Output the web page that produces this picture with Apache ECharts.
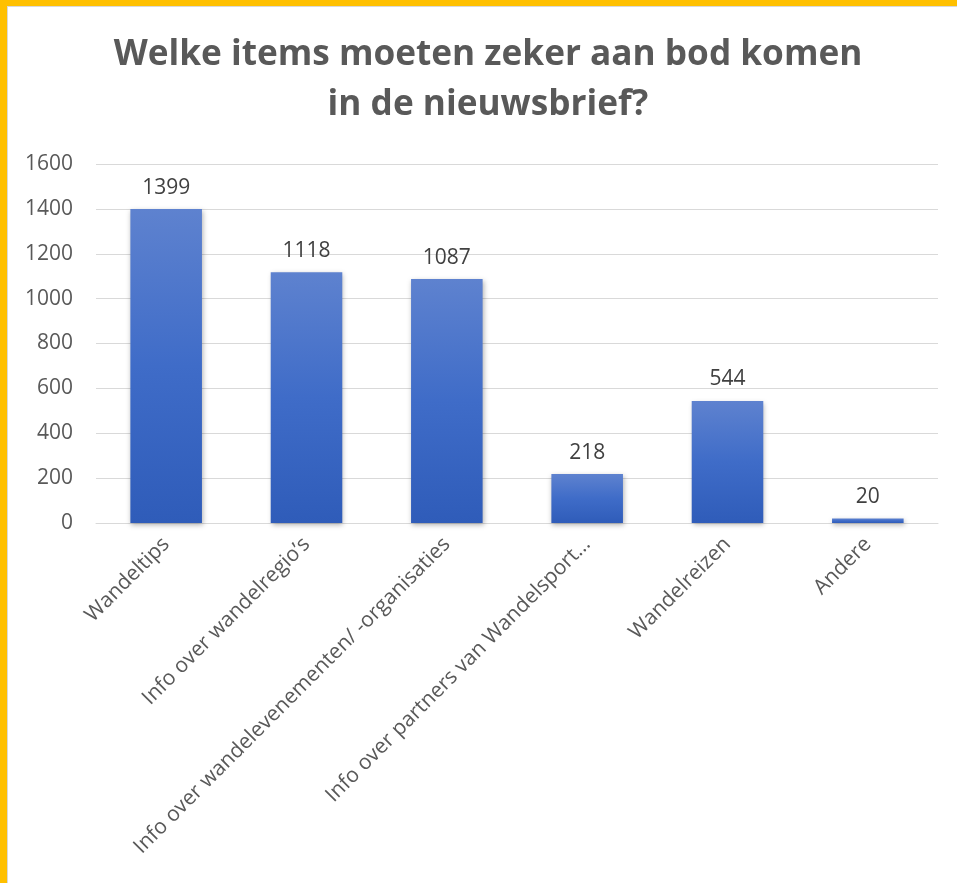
<!DOCTYPE html>
<html>
<head>
<meta charset="utf-8">
<script src="https://cdn.jsdelivr.net/npm/echarts@6/dist/echarts.min.js"></script>
<style>
  html, body { margin: 0; padding: 0; background: #fff; }
  #chart { position: absolute; left: 0; top: 0; width: 957px; height: 883px; }
  .edge { position: absolute; pointer-events: none; }
</style>
</head>
<body>
<div id="chart"></div>
<div class="edge" style="left:0;top:0;width:957px;height:6px;background:#FFC000;"></div>
<div class="edge" style="left:7px;top:6px;width:950px;height:1px;background:#d9d9d9;"></div>
<div class="edge" style="left:0;top:0;width:7px;height:883px;background:#FFC000;"></div>
<div class="edge" style="left:7px;top:7px;width:1px;height:876px;background:#d9d9d9;"></div>
<script>
const titleText = 'Welke items moeten zeker aan bod komen\nin de nieuwsbrief?';
const categories = [
  'Wandeltips',
  'Info over wandelregio\u2019s',
  'Info over wandelevenementen/ -organisaties',
  'Info over partners van Wandelsport\u2026',
  'Wandelreizen',
  'Andere'
];
const counts = [1399, 1118, 1087, 218, 544, 20];
const yTicks = { min: 0, max: 1600, interval: 200 };

const chart = echarts.init(document.getElementById('chart'), null, { renderer: 'canvas' });
const font = '"Open Sans", "Noto Sans", sans-serif';

chart.setOption({
  backgroundColor: '#ffffff',
  animation: false,
  title: {
    text: titleText,
    left: 483,
    textAlign: 'center',
    top: 25,
    textStyle: {
      fontFamily: font,
      fontSize: 35.2,
      fontWeight: 'bold',
      color: '#595959',
      lineHeight: 50
    }
  },
  grid: { left: 96, right: 19, top: 164, bottom: 360, containLabel: false },
  xAxis: {
    type: 'category',
    data: categories,
    axisLine: { show: true, lineStyle: { color: '#d9d9d9', width: 1 } },
    axisTick: { show: false },
    axisLabel: {
      rotate: 45,
      interval: 0,
      margin: 18,
      fontFamily: font,
      fontSize: 21,
      color: '#595959'
    }
  },
  yAxis: {
    type: 'value',
    min: yTicks.min,
    max: yTicks.max,
    interval: yTicks.interval,
    axisLine: { show: false },
    axisTick: { show: false },
    splitLine: { lineStyle: { color: '#d9d9d9', width: 1 } },
    axisLabel: {
      margin: 23,
      fontFamily: font,
      fontSize: 21,
      color: '#595959',
      formatter: v => String(v)
    }
  },
  series: [{
    type: 'bar',
    data: counts,
    barWidth: '51%',
    itemStyle: {
      color: new echarts.graphic.LinearGradient(0, 0, 0, 1, [
        { offset: 0, color: '#5e82cf' },
        { offset: 0.5, color: '#3f6cc8' },
        { offset: 1, color: '#2f5cb9' }
      ]),
      shadowColor: 'rgba(0,0,0,0.3)',
      shadowBlur: 5,
      shadowOffsetX: 1,
      shadowOffsetY: 2
    },
    label: {
      show: true,
      position: 'top',
      distance: 11,
      fontFamily: font,
      fontSize: 21,
      color: '#404040'
    }
  }]
});
</script>
</body>
</html>
